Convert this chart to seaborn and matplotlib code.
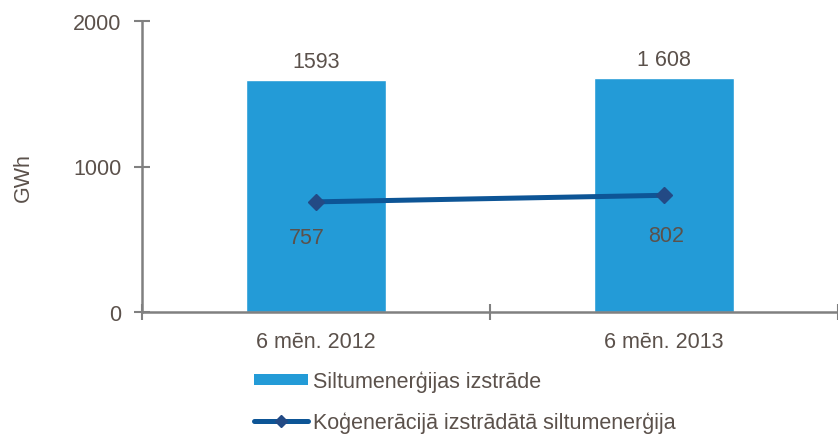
import matplotlib
matplotlib.use('Agg')
import matplotlib.pyplot as plt
import seaborn as sns
import pandas as pd
from matplotlib.patches import Patch
from matplotlib.lines import Line2D

periods = ['6 mēn. 2012', '6 mēn. 2013']
heat_total = [1593, 1608]
heat_cogen = [757, 802]
total_labels = ['1593', '1 608']
cogen_labels = ['757', '802']

bar_name = 'Siltumenerģijas izstrāde'
line_name = 'Koģenerācijā izstrādātā siltumenerģija'

bar_color = '#239bd7'
line_color = '#0d5596'
marker_color = '#234a85'
text_color = '#5b514b'
axis_color = '#808080'
fs = 15.5

df = pd.DataFrame({'period': periods, 'total': heat_total, 'cogen': heat_cogen})

sns.set_style('white')
plt.rcParams['font.family'] = ['Liberation Sans', 'DejaVu Sans']

fig = plt.figure(figsize=(8.38, 4.35), dpi=100)
ax = fig.add_axes([142 / 838, 1 - 313 / 435, 1 - 142 / 838, (313 - 22) / 435])

sns.barplot(data=df, x='period', y='total', color=bar_color, width=0.4,
            saturation=1, ax=ax)
sns.pointplot(data=df, x='period', y='cogen', color=line_color, markers='',
              linestyles='-', linewidth=3.6, errorbar=None, ax=ax)
ax.plot(range(len(periods)), heat_cogen, linestyle='none', marker='D',
        markersize=8.5, color=marker_color, zorder=5)

for i, (v, lab) in enumerate(zip(heat_total, total_labels)):
    ax.text(i, v + 55, lab, ha='center', va='bottom', fontsize=fs, color=text_color)
# value labels for the line sit below the points
cogen_dx = [-0.025, 0.005]
cogen_dy = [-245, -275]
for i, (v, lab) in enumerate(zip(heat_cogen, cogen_labels)):
    ax.text(i + cogen_dx[i], v + cogen_dy[i], lab, ha='center', va='center',
            fontsize=fs, color=text_color)

ax.set_xlim(-0.5, 1.5)
ax.set_ylim(0, 2000)
ax.set_yticks([0, 1000, 2000])
ax.set_xticks([-0.5, 0.5, 1.5], minor=True)
ax.tick_params(axis='x', which='major', length=0, pad=14, labelsize=fs,
               labelcolor=text_color)
ax.tick_params(axis='x', which='minor', bottom=True, length=12, width=1.5,
               direction='inout', color=axis_color)
ax.tick_params(axis='y', which='major', left=True, length=12, width=1.5,
               direction='inout', color=axis_color, labelsize=fs,
               labelcolor=text_color, pad=9)
ax.set_xlabel('')
ax.set_ylabel('GWh', fontsize=fs, color=text_color)
ax.yaxis.set_label_coords(-0.155, 0.464)
sns.despine(ax=ax)
for s in ['left', 'bottom']:
    ax.spines[s].set_color(axis_color)
    ax.spines[s].set_linewidth(1.8)
ax.spines['bottom'].set_zorder(6)

handles = [
    Patch(facecolor=bar_color, edgecolor='none'),
    Line2D([0], [0], color=line_color, linewidth=3.6, marker='D',
           markersize=6, markerfacecolor=marker_color, markeredgecolor=marker_color),
]
fig.legend(handles, [bar_name, line_name], loc='upper left',
           bbox_to_anchor=(243 / 838, 1 - 361 / 435), frameon=False,
           fontsize=fs, labelcolor=text_color, handlelength=2.5,
           handletextpad=0.25, labelspacing=0.9, borderpad=0,
           handleheight=0.45)

fig.savefig('out.png', dpi=100)
